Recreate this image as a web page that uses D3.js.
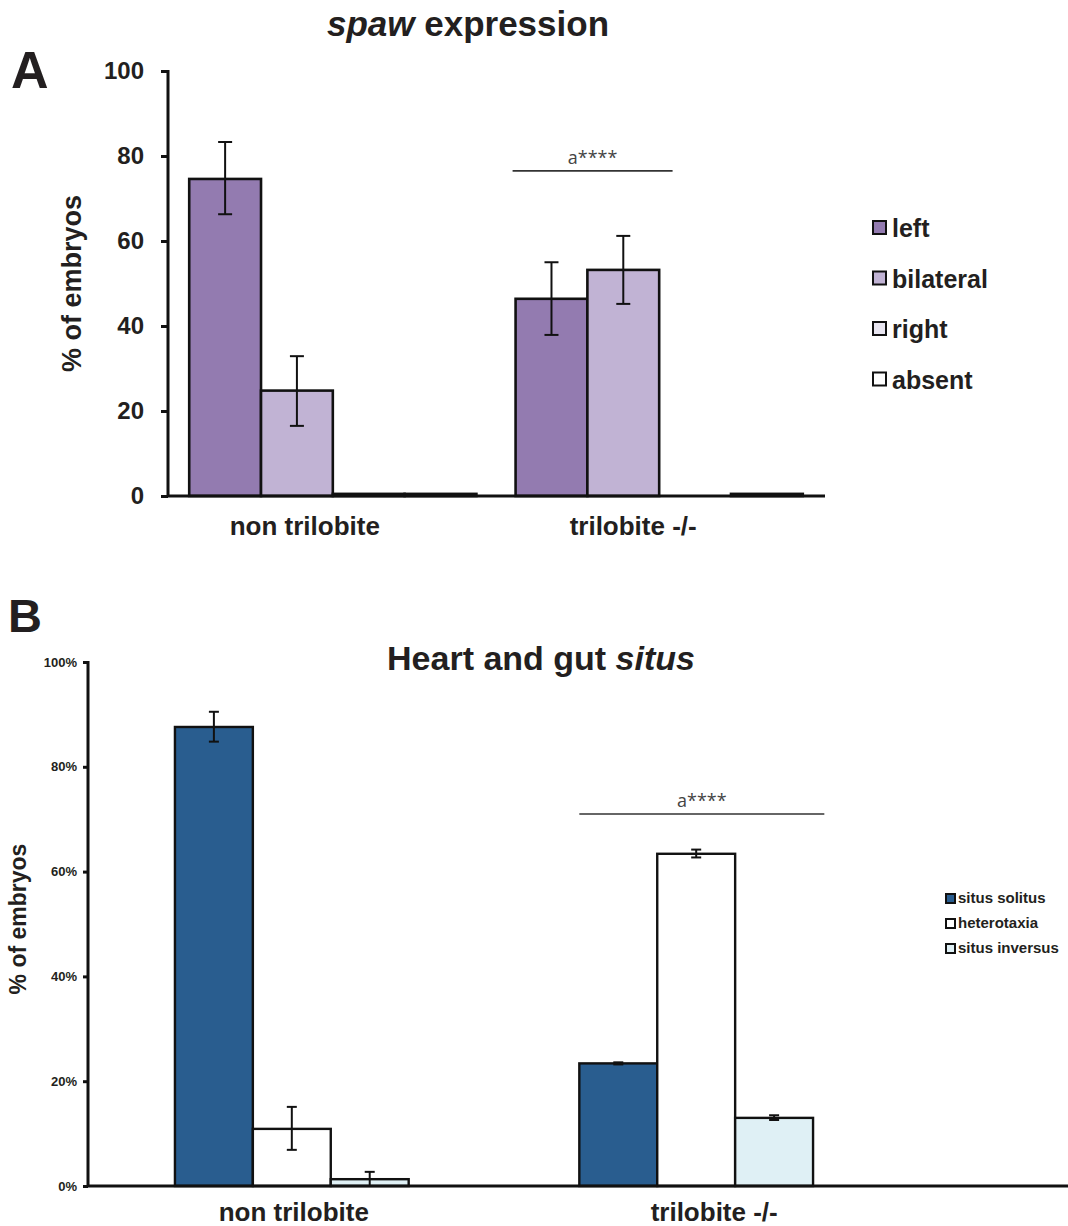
<!DOCTYPE html>
<html>
<head>
<meta charset="utf-8">
<script src="https://cdn.jsdelivr.net/npm/d3@7"></script>
<style>
  html, body { margin: 0; padding: 0; background: #fff; }
  svg { display: block; font-family: "Liberation Sans", Arial, sans-serif; }
</style>
</head>
<body>
<svg id="fig" width="1068" height="1226"></svg>
<script>
// Panel A: spaw expression
const groupsA = ["non trilobite", "trilobite -/-"];
const seriesA = ["left", "bilateral", "right", "absent"];
const colorsA = ["#937bb0", "#c1b3d4", "#e8e5f0", "#ffffff"];
const valuesA = [
  [74.6, 24.8, 0.5, 0.5],
  [46.4, 53.2, 0.0, 0.5]
];
const errLowA = [
  [66.3, 16.5, null, null],
  [37.9, 45.2, null, null]
];
const errHighA = [
  [83.3, 32.9, null, null],
  [55.0, 61.2, null, null]
];
const ticksA = [0, 20, 40, 60, 80, 100];

// Panel B: heart and gut situs
const groupsB = ["non trilobite", "trilobite -/-"];
const seriesB = ["situs solitus", "heterotaxia", "situs inversus"];
const colorsB = ["#295d8f", "#ffffff", "#dff0f5"];
const valuesB = [
  [87.6, 10.9, 1.3],
  [23.4, 63.4, 13.0]
];
const errLowB = [
  [84.8, 6.9, 0.0],
  [23.2, 62.7, 12.6]
];
const errHighB = [
  [90.5, 15.1, 2.7],
  [23.6, 64.2, 13.5]
];
const ticksB = [0, 20, 40, 60, 80, 100];

const ink = "#231f20";
const svg = d3.select("#fig");

function panel(cfg) {
  const g = svg.append("g");
  const x0 = d3.scaleBand().domain(cfg.groups).range(cfg.xRange)
    .paddingInner(cfg.padInner).paddingOuter(cfg.padOuter);
  const x1 = d3.scaleBand().domain(cfg.series).range([0, x0.bandwidth()]);
  const y = d3.scaleLinear().domain([0, 100]).range(cfg.yRange);
  const color = d3.scaleOrdinal().domain(cfg.series).range(cfg.colors);

  // bars
  cfg.groups.forEach((grp, gi) => {
    const gg = g.append("g").attr("transform", `translate(${x0(grp)},0)`);
    cfg.series.forEach((s, si) => {
      const v = cfg.values[gi][si];
      if (v <= 0) return;
      gg.append("rect")
        .attr("x", x1(s))
        .attr("y", y(v))
        .attr("width", x1.bandwidth())
        .attr("height", y(0) - y(v))
        .attr("fill", color(s))
        .attr("stroke", "#111")
        .attr("stroke-width", cfg.barStroke);
    });
    // error bars
    cfg.series.forEach((s, si) => {
      const lo = cfg.errLow[gi][si], hi = cfg.errHigh[gi][si];
      if (lo == null || hi == null) return;
      const cx = x1(s) + x1.bandwidth() / 2;
      const eg = gg.append("g").attr("stroke", "#111").attr("stroke-width", cfg.errStroke);
      eg.append("line").attr("x1", cx).attr("x2", cx).attr("y1", y(lo)).attr("y2", y(hi));
      eg.append("line").attr("x1", cx - cfg.cap).attr("x2", cx + cfg.cap).attr("y1", y(hi)).attr("y2", y(hi));
      eg.append("line").attr("x1", cx - cfg.cap).attr("x2", cx + cfg.cap).attr("y1", y(lo)).attr("y2", y(lo));
    });
  });

  // y axis
  const yAxis = d3.axisLeft(y).tickValues(cfg.ticks).tickSize(cfg.tickLen)
    .tickPadding(cfg.tickPad).tickFormat(cfg.tickFormat);
  const ya = g.append("g").attr("transform", `translate(${cfg.xRange[0]},0)`).call(yAxis);
  ya.select(".domain").attr("stroke", "#111").attr("stroke-width", cfg.axisStroke)
    .attr("d", `M0,${cfg.yRange[1] - 1}V${cfg.yRange[0] + 1}`);
  ya.selectAll(".tick line").attr("stroke", "#111").attr("stroke-width", cfg.axisStroke);
  ya.selectAll(".tick text").attr("fill", ink).attr("font-size", cfg.tickFont)
    .attr("font-weight", "bold").attr("font-family", "Liberation Sans, Arial, sans-serif");

  // x axis baseline
  g.append("line")
    .attr("x1", cfg.xRange[0] - 1).attr("x2", cfg.xAxisEnd)
    .attr("y1", y(0)).attr("y2", y(0))
    .attr("stroke", "#111").attr("stroke-width", cfg.axisStroke);

  // group labels
  cfg.groups.forEach((grp, gi) => {
    g.append("text")
      .attr("x", x0(grp) + x0.bandwidth() / 2 + cfg.labelShift[gi])
      .attr("y", y(0) + cfg.labelDy)
      .attr("text-anchor", "middle")
      .attr("font-size", cfg.labelFont).attr("font-weight", "bold")
      .attr("fill", ink).text(grp);
  });

  // y title
  g.append("text")
    .attr("transform", `translate(${cfg.yTitleX},${(cfg.yRange[0] + cfg.yRange[1]) / 2 + cfg.yTitleDy}) rotate(-90)`)
    .attr("text-anchor", "middle")
    .attr("font-size", cfg.yTitleFont).attr("font-weight", "bold")
    .attr("fill", ink).text("% of embryos");

  // chart title with italic gene/term
  const t = g.append("text")
    .attr("x", cfg.titleX).attr("y", cfg.titleY)
    .attr("text-anchor", "middle")
    .attr("font-size", cfg.titleFont).attr("font-weight", "bold").attr("fill", ink);
  cfg.title.forEach(part => {
    t.append("tspan").attr("font-style", part.italic ? "italic" : "normal").text(part.text);
  });

  // panel letter
  g.append("text")
    .attr("x", cfg.letterX).attr("y", cfg.letterY)
    .attr("font-size", cfg.letterFont).attr("font-weight", "bold").attr("fill", ink)
    .text(cfg.letter);

  // significance bracket over the mutant group
  const sg = cfg.groups[1];
  const sx1 = x0(sg) + cfg.sigFrom, sx2 = x0(sg) + cfg.sigTo;
  g.append("line").attr("x1", sx1).attr("x2", sx2)
    .attr("y1", y(cfg.sigLevel)).attr("y2", y(cfg.sigLevel))
    .attr("stroke", "#333").attr("stroke-width", 1.6);
  g.append("text")
    .attr("x", (sx1 + sx2) / 2).attr("y", y(cfg.sigLevel) - 7)
    .attr("text-anchor", "middle")
    .attr("font-family", "'Open Sans', 'Noto Sans', sans-serif")
    .attr("font-size", 18).attr("fill", "#444").text("a****");

  // legend
  const lg = g.append("g").attr("transform", `translate(${cfg.legendX},${cfg.legendY})`);
  cfg.series.forEach((s, i) => {
    const row = lg.append("g").attr("transform", `translate(0,${i * cfg.legendStep})`);
    row.append("rect")
      .attr("x", 0).attr("y", -cfg.legendBox)
      .attr("width", cfg.legendBox).attr("height", cfg.legendBox)
      .attr("fill", color(s)).attr("stroke", "#111").attr("stroke-width", cfg.legendStroke);
    row.append("text")
      .attr("x", cfg.legendBox + cfg.legendGap).attr("y", cfg.legendTextDy)
      .attr("font-size", cfg.legendFont).attr("font-weight", "bold")
      .attr("fill", ink).text(s);
  });
}

panel({
  groups: groupsA, series: seriesA, colors: colorsA,
  values: valuesA, errLow: errLowA, errHigh: errHighA, ticks: ticksA,
  xRange: [168, 824], padInner: 0.12, padOuter: 0.065,
  yRange: [496, 71], xAxisEnd: 825,
  barStroke: 2.6, errStroke: 2, cap: 7, axisStroke: 3,
  tickLen: 7, tickPad: 17, tickFont: 24, tickFormat: d => d,
  labelFont: 26, labelDy: 39, labelShift: [-28, -26],
  yTitleX: 81, yTitleFont: 27, yTitleDy: 0,
  title: [{ text: "spaw", italic: true }, { text: " expression", italic: false }],
  titleX: 468, titleY: 36, titleFont: 35,
  letter: "A", letterX: 11, letterY: 88, letterFont: 52,
  sigFrom: -3, sigTo: 157, sigLevel: 76.5,
  legendX: 873, legendY: 234, legendStep: 50.5, legendBox: 13, legendStroke: 2,
  legendGap: 6, legendTextDy: 3, legendFont: 25
});

panel({
  groups: groupsB, series: seriesB, colors: colorsB,
  values: valuesB, errLow: errLowB, errHigh: errHighB, ticks: ticksB,
  xRange: [88, 900], padInner: 0.422, padOuter: 0.215,
  yRange: [1186, 662], xAxisEnd: 1068,
  barStroke: 2.4, errStroke: 2, cap: 5, axisStroke: 3,
  tickLen: 5, tickPad: 6, tickFont: 13, tickFormat: d => d + "%",
  labelFont: 26, labelDy: 35, labelShift: [2, 18],
  yTitleX: 26, yTitleFont: 23, yTitleDy: -5,
  title: [{ text: "Heart and gut ", italic: false }, { text: "situs", italic: true }],
  titleX: 541, titleY: 670, titleFont: 34,
  letter: "B", letterX: 8, letterY: 632, letterFont: 47,
  sigFrom: 0, sigTo: 245, sigLevel: 71,
  legendX: 946, legendY: 903, legendStep: 25, legendBox: 9, legendStroke: 2,
  legendGap: 3, legendTextDy: 0, legendFont: 15
});
</script>
</body>
</html>
